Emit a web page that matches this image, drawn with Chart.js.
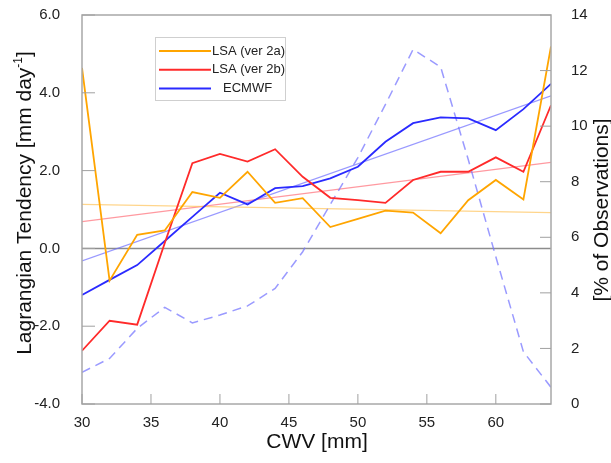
<!DOCTYPE html>
<html>
<head>
<meta charset="utf-8">
<script src="https://cdn.jsdelivr.net/npm/chart.js@4.4.0/dist/chart.umd.min.js"></script>
<style>
    html, body { margin: 0; padding: 0; background: #fff; }
    #wrap { width: 611px; height: 463px; }
</style>
</head>
<body>
<div id="wrap"><canvas id="chart" width="611" height="463"></canvas></div>
<script>
// CWV bins (mm)
const cwv = [30, 32, 34, 36, 38, 40, 42, 44, 46, 48, 50, 52, 54, 56, 58, 60, 62, 64];

// Lagrangian tendency (mm/day)
const lsa2a = [4.64, -0.83, 0.35, 0.46, 1.45, 1.30, 1.97, 1.17, 1.29, 0.55, 0.76, 0.97, 0.92, 0.39, 1.24, 1.76, 1.26, 5.19];
const lsa2b = [-2.63, -1.86, -1.96, 0.14, 2.19, 2.43, 2.23, 2.55, 1.84, 1.30, 1.24, 1.17, 1.76, 1.97, 1.97, 2.34, 1.97, 3.68];
const ecmwf = [-1.20, -0.81, -0.43, 0.19, 0.81, 1.43, 1.13, 1.55, 1.60, 1.80, 2.10, 2.74, 3.22, 3.37, 3.34, 3.04, 3.58, 4.23];

// % of observations (right axis, dashed)
const obsPct = [1.14, 1.64, 2.72, 3.48, 2.92, 3.20, 3.53, 4.16, 5.48, 7.18, 8.87, 10.78, 12.76, 12.13, 8.8, 5.3, 1.88, 0.6];

// linear fits, values at the two ends (30 and 64 mm)
const trendX = [30, 64];
const trend2a = [1.13, 0.92];
const trend2b = [0.69, 2.21];
const trendEc = [-0.32, 3.92];

// tick labels
const xTicks = [30, 35, 40, 45, 50, 55, 60];
const leftTicks = [-4, -2, 0, 2, 4, 6];
const rightTicks = [0, 2, 4, 6, 8, 10, 12, 14];

const FONT = '"Liberation Sans", Arial, sans-serif';

function pairs(xs, ys) {
    return xs.map((x, i) => ({ x: x, y: ys[i] }));
}

function lineSet(label, data, color, width, axis, dash) {
    return {
        label: label,
        data: data,
        borderColor: color,
        borderWidth: width,
        borderDash: dash || [],
        pointRadius: 0,
        tension: 0,
        fill: false,
        yAxisID: axis
    };
}

// legend entries (only the three model lines)
const legendItems = [
    { text: 'LSA (ver 2a)', color: '#ffa500', textX: 212 },
    { text: 'LSA (ver 2b)', color: '#ff2a2a', textX: 212 },
    { text: 'ECMWF', color: '#2a2aff', textX: 223 }
];

// remove the label overhang padding so the plot area stays where we put it
function noPad(s) {
    s.paddingTop = 0;
    s.paddingBottom = 0;
    s.paddingLeft = 0;
    s.paddingRight = 0;
}

// extra drawing: zero line, inward ticks, frame, legend and titles
const decorPlugin = {
    id: 'decor',
    beforeDatasetsDraw(chart) {
        const ctx = chart.ctx;
        const a = chart.chartArea;
        const y0 = chart.scales.y.getPixelForValue(0);
        ctx.save();
        ctx.strokeStyle = '#8c8c8c';
        ctx.lineWidth = 1.5;
        ctx.beginPath();
        ctx.moveTo(a.left, y0);
        ctx.lineTo(a.right, y0);
        ctx.stroke();
        ctx.restore();
    },
    afterDraw(chart) {
        const ctx = chart.ctx;
        const a = chart.chartArea;
        const sx = chart.scales.x, sy = chart.scales.y, sy1 = chart.scales.y1;
        ctx.save();

        // frame
        ctx.strokeStyle = '#a8a8a8';
        ctx.lineWidth = 1.5;
        ctx.strokeRect(a.left, a.top, a.right - a.left, a.bottom - a.top);

        // inward ticks
        ctx.lineWidth = 1;
        ctx.strokeStyle = '#a0a0a0';
        ctx.beginPath();
        leftTicks.forEach(v => {
            const p = sy.getPixelForValue(v);
            ctx.moveTo(a.left, p); ctx.lineTo(a.left + 13, p);
        });
        rightTicks.forEach(v => {
            const p = sy1.getPixelForValue(v);
            ctx.moveTo(a.right, p); ctx.lineTo(a.right - 11, p);
        });
        xTicks.forEach(v => {
            const p = sx.getPixelForValue(v);
            ctx.moveTo(p, a.bottom); ctx.lineTo(p, a.bottom - 10);
        });
        ctx.stroke();

        // legend
        ctx.fillStyle = '#fff';
        ctx.fillRect(155, 37, 130, 63);
        ctx.strokeStyle = '#cfcfcf';
        ctx.lineWidth = 1;
        ctx.strokeRect(155.5, 37.5, 130, 63);
        ctx.font = '13px ' + FONT;
        ctx.textBaseline = 'middle';
        ctx.textAlign = 'left';
        legendItems.forEach((it, i) => {
            const y = 51 + i * 18.7;
            ctx.strokeStyle = it.color;
            ctx.lineWidth = 2;
            ctx.beginPath();
            ctx.moveTo(159, y); ctx.lineTo(211, y);
            ctx.stroke();
            ctx.fillStyle = '#222';
            ctx.fillText(it.text, it.textX, y);
        });

        // x title
        ctx.fillStyle = '#111';
        ctx.font = '21px ' + FONT;
        ctx.textAlign = 'center';
        ctx.textBaseline = 'middle';
        ctx.fillText('CWV [mm]', 317, 442);

        // left title with superscript
        const mainTxt = 'Lagrangian Tendency [mm day';
        const supTxt = '-1';
        const endTxt = ']';
        ctx.font = '21px ' + FONT;
        const w1 = ctx.measureText(mainTxt).width;
        const w3 = ctx.measureText(endTxt).width;
        ctx.font = '12px ' + FONT;
        const w2 = ctx.measureText(supTxt).width;
        const total = w1 + w2 + w3;
        ctx.save();
        ctx.translate(23, 203);
        ctx.rotate(-Math.PI / 2);
        ctx.textAlign = 'left';
        ctx.textBaseline = 'alphabetic';
        ctx.font = '21px ' + FONT;
        let x = -total / 2;
        ctx.fillText(mainTxt, x, 8);
        x += w1;
        ctx.font = '12px ' + FONT;
        ctx.fillText(supTxt, x, -1);
        x += w2;
        ctx.font = '21px ' + FONT;
        ctx.fillText(endTxt, x, 8);
        ctx.restore();

        // right title
        ctx.save();
        ctx.translate(602, 210);
        ctx.rotate(-Math.PI / 2);
        ctx.textAlign = 'center';
        ctx.textBaseline = 'middle';
        ctx.font = '21px ' + FONT;
        ctx.fillText('[% of Observations]', 0, 0);
        ctx.restore();

        ctx.restore();
    }
};

const tickFont = { family: FONT, size: 15 };

new Chart(document.getElementById('chart'), {
    type: 'line',
    data: {
        datasets: [
            lineSet('LSA (ver 2a)', pairs(cwv, lsa2a), '#ffa500', 1.8, 'y'),
            lineSet('LSA (ver 2b)', pairs(cwv, lsa2b), '#ff2a2a', 1.8, 'y'),
            lineSet('ECMWF', pairs(cwv, ecmwf), '#2a2aff', 1.8, 'y'),
            lineSet('% of Observations', pairs(cwv, obsPct), 'rgba(120, 120, 255, 0.75)', 1.5, 'y1', [9, 6]),
            lineSet('fit 2a', pairs(trendX, trend2a), 'rgba(255, 195, 90, 0.7)', 1.3, 'y'),
            lineSet('fit 2b', pairs(trendX, trend2b), 'rgba(255, 110, 120, 0.7)', 1.3, 'y'),
            lineSet('fit ECMWF', pairs(trendX, trendEc), 'rgba(110, 110, 255, 0.7)', 1.3, 'y')
        ]
    },
    options: {
        responsive: false,
        animation: false,
        devicePixelRatio: 1,
        layout: { padding: { top: 15, left: 0, right: 0, bottom: 0 } },
        plugins: {
            legend: { display: false },
            tooltip: { enabled: false }
        },
        scales: {
            x: {
                type: 'linear',
                min: 30,
                max: 64,
                afterBuildTicks: s => { s.ticks = xTicks.map(v => ({ value: v })); },
                afterFit: s => { s.height = 59; noPad(s); },
                grid: { display: false },
                border: { display: false },
                ticks: { font: tickFont, color: '#222', padding: 2, maxRotation: 0 }
            },
            y: {
                position: 'left',
                min: -4,
                max: 6,
                afterBuildTicks: s => { s.ticks = leftTicks.map(v => ({ value: v })); },
                afterFit: s => { s.width = 82; noPad(s); },
                grid: { display: false },
                border: { display: false },
                ticks: { font: tickFont, color: '#222', padding: 14, callback: v => v.toFixed(1) }
            },
            y1: {
                position: 'right',
                min: 0,
                max: 14,
                afterBuildTicks: s => { s.ticks = rightTicks.map(v => ({ value: v })); },
                afterFit: s => { s.width = 60; noPad(s); },
                grid: { display: false },
                border: { display: false },
                ticks: { font: tickFont, color: '#222', padding: 12 }
            }
        }
    },
    plugins: [decorPlugin]
});
</script>
</body>
</html>
